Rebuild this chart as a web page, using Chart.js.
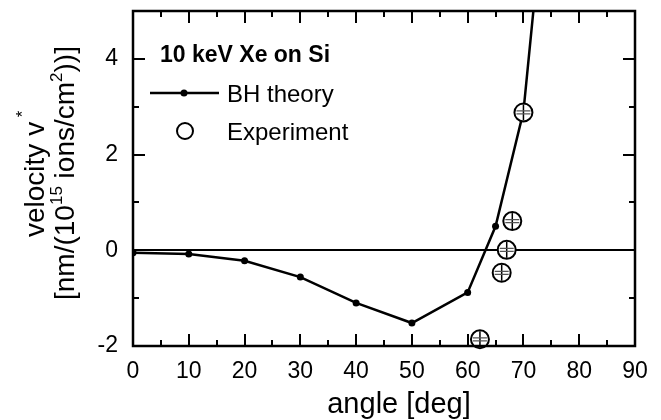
<!DOCTYPE html>
<html>
<head>
<meta charset="utf-8">
<title>Sputter velocity vs. angle</title>
<script src="https://cdn.jsdelivr.net/npm/chart.js@4.4.1/dist/chart.umd.min.js"></script>
<style>
  html, body { margin: 0; padding: 0; background: #fff; }
  canvas { display: block; }
</style>
</head>
<body>
<canvas id="chart" width="661" height="420"></canvas>
<script>
// BH theory curve (angle in deg, velocity in nm/(1e15 ions/cm^2))
const bhAngles = [0, 10, 20, 30, 40, 50, 60, 65, 70, 75];
const bhVelocity = [-0.05, -0.08, -0.22, -0.56, -1.1, -1.52, -0.88, 0.5, 2.9, 8.8];

// measured points
const expAngles = [62.2, 66.1, 67.0, 68.0, 70.0];
const expVelocity = [-1.86, -0.47, 0.01, 0.61, 2.88];

const angleTicks = [0, 10, 20, 30, 40, 50, 60, 70, 80, 90];
const velocityTicks = [-2, 0, 2, 4];

const FONT = "'Liberation Sans', Arial, Helvetica, sans-serif";

function toPoints(xs, ys) {
    return xs.map((x, i) => ({ x: x, y: ys[i] }));
}

// no extra room for end labels, the box is placed by layout padding
function noPadding(scale) {
    scale.paddingTop = 0;
    scale.paddingBottom = 0;
    scale.paddingLeft = 0;
    scale.paddingRight = 0;
}

// white page behind everything
const background = {
    id: "background",
    beforeDraw(chart) {
        const ctx = chart.ctx;
        ctx.save();
        ctx.fillStyle = "#fff";
        ctx.fillRect(0, 0, chart.width, chart.height);
        ctx.restore();
    }
};

// error-bar marks inside the experiment circles
const expMarks = {
    id: "expMarks",
    afterDatasetsDraw(chart) {
        const ctx = chart.ctx;
        const meta = chart.getDatasetMeta(1);
        ctx.save();
        meta.data.forEach(pt => {
            const x = pt.x, y = pt.y;
            ctx.strokeStyle = "#000";
            ctx.lineWidth = 1.5;
            ctx.beginPath();
            ctx.moveTo(x, y - 8);
            ctx.lineTo(x, y + 8);
            ctx.stroke();
            ctx.strokeStyle = "#555";
            ctx.lineWidth = 1.3;
            ctx.beginPath();
            ctx.moveTo(x - 7, y - 1.5);
            ctx.lineTo(x + 7, y - 1.5);
            ctx.moveTo(x - 7, y + 1.5);
            ctx.lineTo(x + 7, y + 1.5);
            ctx.stroke();
        });
        ctx.restore();
    }
};

// box frame with inward ticks on all four sides
const frame = {
    id: "frame",
    afterDatasetsDraw(chart) {
        const ctx = chart.ctx;
        const a = chart.chartArea;
        const xs = chart.scales.x, ys = chart.scales.y;
        ctx.save();
        ctx.strokeStyle = "#000";
        ctx.lineWidth = 2;
        ctx.beginPath();
        for (let v = 5; v < 90; v += 5) {
            const px = Math.round(xs.getPixelForValue(v));
            const len = v % 10 === 0 ? 12 : 6;
            ctx.moveTo(px, a.bottom);
            ctx.lineTo(px, a.bottom - len);
            ctx.moveTo(px, a.top);
            ctx.lineTo(px, a.top + len);
        }
        for (let v = -1; v < 5; v += 1) {
            const py = Math.round(ys.getPixelForValue(v));
            const len = v % 2 === 0 ? 12 : 6;
            ctx.moveTo(a.left, py);
            ctx.lineTo(a.left + len, py);
            ctx.moveTo(a.right, py);
            ctx.lineTo(a.right - len, py);
        }
        ctx.stroke();
        ctx.lineWidth = 2.5;
        ctx.strokeRect(a.left, a.top, a.right - a.left, a.bottom - a.top);
        ctx.restore();
    }
};

// draws text runs with superscripts along the current baseline
function drawRuns(ctx, runs, size) {
    let x = 0;
    runs.forEach(r => {
        const s = r.sup ? Math.round(size * 0.62) : size;
        ctx.font = s + "px " + FONT;
        ctx.fillText(r.text, x, r.sup ? -r.sup : 0);
        x += ctx.measureText(r.text).width;
    });
}

// axis titles and the boxed legend
const annotations = {
    id: "annotations",
    afterDraw(chart) {
        const ctx = chart.ctx;
        ctx.save();
        ctx.fillStyle = "#000";
        ctx.textBaseline = "alphabetic";

        // x title
        ctx.textAlign = "center";
        ctx.font = "29px " + FONT;
        ctx.fillText("angle [deg]", 399, 413);

        // y title, two rotated lines
        ctx.textAlign = "left";
        ctx.save();
        ctx.translate(44, 237);
        ctx.rotate(-Math.PI / 2);
        drawRuns(ctx, [{ text: "velocity v" }, { text: " *", sup: 16 }], 28);
        ctx.restore();
        ctx.save();
        ctx.translate(74, 300);
        ctx.rotate(-Math.PI / 2);
        drawRuns(ctx, [
            { text: "[nm/(10" },
            { text: "15", sup: 12 },
            { text: " ions/cm" },
            { text: "2", sup: 12 },
            { text: "))]" }
        ], 28);
        ctx.restore();

        // legend
        ctx.font = "bold 23px " + FONT;
        ctx.fillText("10 keV Xe on Si", 160, 62);

        ctx.strokeStyle = "#000";
        ctx.lineWidth = 2.5;
        ctx.beginPath();
        ctx.moveTo(150, 93);
        ctx.lineTo(219, 93);
        ctx.stroke();
        ctx.beginPath();
        ctx.arc(184, 93, 3.5, 0, Math.PI * 2);
        ctx.fill();

        ctx.lineWidth = 2;
        ctx.beginPath();
        ctx.arc(185, 131, 8, 0, Math.PI * 2);
        ctx.stroke();

        ctx.font = "24px " + FONT;
        ctx.fillText("BH theory", 227, 101.5);
        ctx.fillText("Experiment", 227, 139.5);
        ctx.restore();
    }
};

new Chart(document.getElementById("chart"), {
    type: "scatter",
    data: {
        datasets: [
            {
                label: "BH theory",
                data: toPoints(bhAngles, bhVelocity),
                showLine: true,
                borderColor: "#000",
                borderWidth: 2.5,
                backgroundColor: "#000",
                pointRadius: 3.5,
                pointBackgroundColor: "#000",
                pointBorderWidth: 0,
                clip: 0,
                order: 1
            },
            {
                label: "Experiment",
                data: toPoints(expAngles, expVelocity),
                showLine: false,
                pointRadius: 9,
                pointBorderWidth: 2,
                pointBorderColor: "#000",
                pointBackgroundColor: "#fff",
                clip: false,
                order: 0
            }
        ]
    },
    options: {
        responsive: false,
        animation: false,
        events: [],
        layout: { padding: { top: 10, right: 26, left: 0, bottom: 0 } },
        plugins: {
            legend: { display: false },
            tooltip: { enabled: false }
        },
        scales: {
            x: {
                type: "linear",
                min: 0,
                max: 90,
                afterFit(scale) { scale.height = 74; noPadding(scale); },
                afterBuildTicks(scale) { scale.ticks = angleTicks.map(v => ({ value: v })); },
                grid: { display: false, drawTicks: false },
                border: { display: false },
                ticks: {
                    padding: 12,
                    maxRotation: 0,
                    autoSkip: false,
                    color: "#000",
                    font: { family: FONT, size: 23 }
                }
            },
            y: {
                type: "linear",
                min: -2,
                max: 5,
                afterFit(scale) { scale.width = 133; noPadding(scale); },
                afterBuildTicks(scale) { scale.ticks = velocityTicks.map(v => ({ value: v })); },
                grid: {
                    drawTicks: false,
                    lineWidth: 2,
                    color: ctx => (ctx.tick && ctx.tick.value === 0 ? "#000" : "rgba(0,0,0,0)")
                },
                border: { display: false },
                ticks: {
                    padding: 15,
                    autoSkip: false,
                    color: "#000",
                    font: { family: FONT, size: 23 }
                }
            }
        }
    },
    plugins: [background, expMarks, frame, annotations]
});
</script>
</body>
</html>
